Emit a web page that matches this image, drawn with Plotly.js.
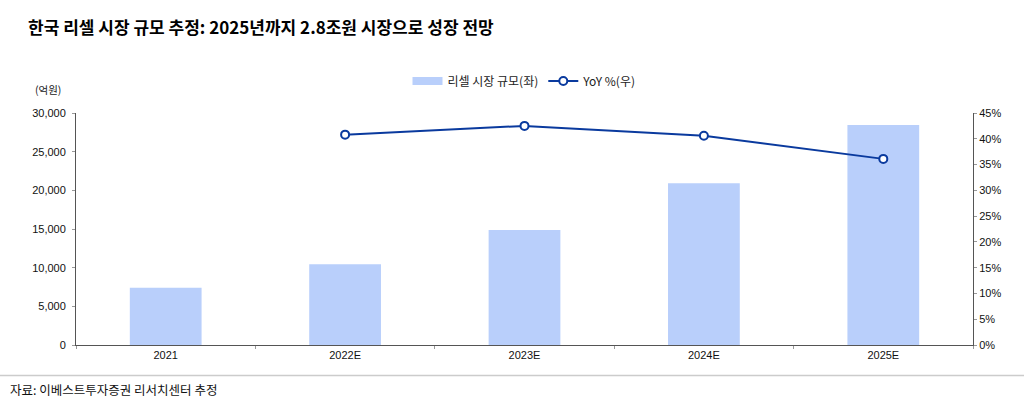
<!DOCTYPE html>
<html>
<head>
<meta charset="utf-8">
<script src="https://cdn.plot.ly/plotly-3.0.1.min.js"></script>
<style>
html,body{margin:0;padding:0;background:#fff;}
#chart{width:1024px;height:409px;}
</style>
</head>
<body>
<div id="chart"></div>
<script>
const categories = ['2021', '2022E', '2023E', '2024E', '2025E'];
const marketSize = [7400, 10430, 14870, 20900, 28450];
const yoyCategories = ['2022E', '2023E', '2024E', '2025E'];
const yoyPct = [40.8, 42.5, 40.6, 36.1];
const leftTicks = [0, 5000, 10000, 15000, 20000, 25000, 30000];
const rightTicks = [0, 5, 10, 15, 20, 25, 30, 35, 40, 45];
const rightTickLabels = ['0%', '5%', '10%', '15%', '20%', '25%', '30%', '35%', '40%', '45%'];

const KFONT = '"Noto Sans CJK KR", "Noto Sans", sans-serif';
const NFONT = '"Liberation Sans Narrow", "Arial Narrow", "Liberation Sans", Arial, sans-serif';
const BAR_COLOR = '#B9CFFB';
const LINE_COLOR = '#0A3A9E';

const traces = [
  {
    type: 'scatter',
    mode: 'lines',
    name: '리셀 시장 규모(좌)',
    x: [null],
    y: [null],
    line: {color: BAR_COLOR, width: 8},
    hoverinfo: 'skip',
    showlegend: true
  },
  {
    type: 'bar',
    name: '리셀 시장 규모(좌)',
    x: categories,
    y: marketSize,
    width: 0.4,
    marker: {color: BAR_COLOR, line: {width: 0}},
    yaxis: 'y',
    showlegend: false
  },
  {
    type: 'scatter',
    mode: 'lines+markers',
    name: 'YoY %(우)',
    x: yoyCategories,
    y: yoyPct,
    yaxis: 'y2',
    line: {color: LINE_COLOR, width: 2},
    marker: {symbol: 'circle', size: 8, color: '#ffffff', line: {color: LINE_COLOR, width: 2}}
  }
];

const layout = {
  width: 1024,
  height: 409,
  margin: {l: 76, r: 51, t: 113, b: 64},
  paper_bgcolor: '#ffffff',
  plot_bgcolor: '#ffffff',
  showlegend: true,
  title: {
    text: '<b>한국 리셀 시장 규모 추정: 2025년까지 2.8조원 시장으로 성장 전망</b>',
    font: {family: KFONT, size: 17, color: '#000000'},
    xref: 'container', yref: 'container',
    x: 28/1024, xanchor: 'left',
    y: 1 - 28/409, yanchor: 'middle'
  },
  legend: {
    orientation: 'h',
    x: 0.5, xanchor: 'center',
    y: (345-81)/232, yanchor: 'middle',
    font: {family: KFONT, size: 12, color: '#222222'},
    bgcolor: 'rgba(0,0,0,0)',
    itemwidth: 30,
    traceorder: 'normal'
  },
  xaxis: {
    type: 'category',
    categoryorder: 'array',
    categoryarray: categories,
    showline: true, linecolor: '#555555', linewidth: 1,
    ticks: 'outside', ticklen: 3, tickcolor: '#999999',
    tickson: 'boundaries',
    showgrid: false, zeroline: false,
    tickfont: {family: NFONT, size: 11, color: '#111111'},
    range: [-0.5, 4.5]
  },
  yaxis: {
    range: [0, 30000],
    tickmode: 'array',
    tickvals: leftTicks,
    tickformat: ',d',
    showline: true, linecolor: '#555555', linewidth: 1,
    ticks: 'outside', ticklen: 3, tickcolor: '#999999',
    showgrid: false, zeroline: false,
    tickfont: {family: NFONT, size: 11, color: '#111111'},
    ticklabelstandoff: 4
  },
  yaxis2: {
    range: [0, 45],
    tickmode: 'array',
    tickvals: rightTicks,
    ticktext: rightTickLabels,
    overlaying: 'y',
    side: 'right',
    showline: true, linecolor: '#555555', linewidth: 1,
    ticks: 'outside', ticklen: 3, tickcolor: '#999999',
    showgrid: false, zeroline: false,
    tickfont: {family: NFONT, size: 11, color: '#111111'}
  },
  annotations: [
    {
      text: '(억원)',
      xref: 'paper', yref: 'paper',
      x: (63-76)/897, xanchor: 'right',
      y: (345-89)/232, yanchor: 'middle',
      showarrow: false,
      font: {family: KFONT, size: 10.5, color: '#222222'}
    },
    {
      text: '자료: 이베스트투자증권 리서치센터 추정',
      xref: 'paper', yref: 'paper',
      x: (8-76)/897, xanchor: 'left',
      y: (345-389)/232, yanchor: 'middle',
      showarrow: false,
      font: {family: KFONT, size: 12.5, color: '#111111'}
    }
  ],
  shapes: [
    {
      type: 'line',
      xref: 'paper', yref: 'paper',
      x0: -76/897, x1: (1024-76)/897,
      y0: (345-375.5)/232, y1: (345-375.5)/232,
      line: {color: '#cccccc', width: 1.5}
    }
  ]
};

Plotly.newPlot('chart', traces, layout, {displayModeBar: false, staticPlot: true});
</script>
</body>
</html>
